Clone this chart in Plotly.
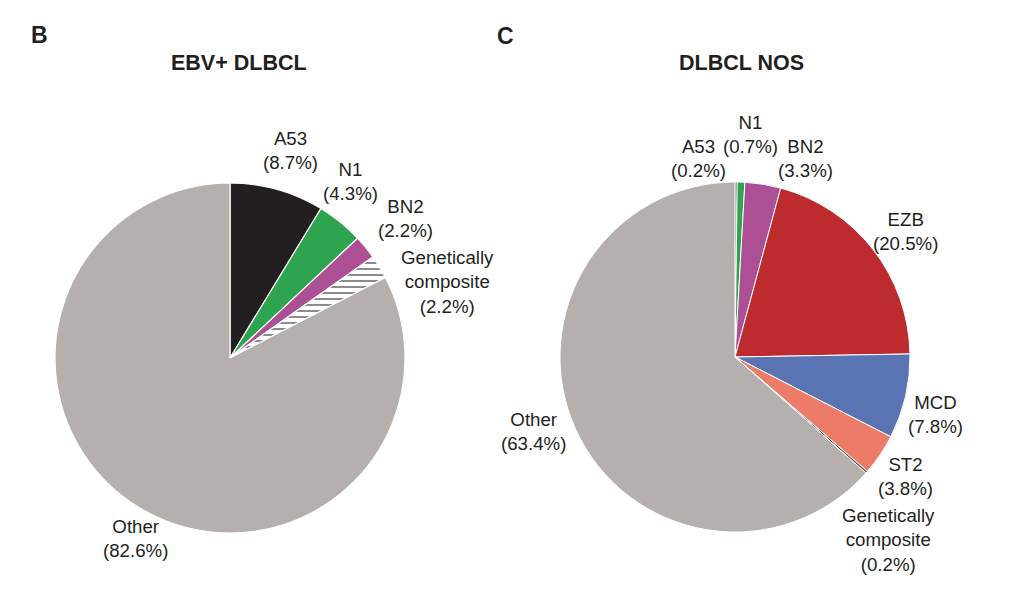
import plotly.graph_objects as go

W, H = 1012, 593
OFF = 8  # page body margin

# Panel B: EBV+ DLBCL
b_labels = ["A53", "N1", "BN2", "Genetically composite", "Other"]
b_values = [8.7, 4.3, 2.2, 2.2, 82.6]
# Panel C: DLBCL NOS
c_labels = ["A53", "N1", "BN2", "EZB", "MCD", "ST2", "Genetically composite", "Other"]
c_values = [0.2, 0.7, 3.3, 20.5, 7.8, 3.8, 0.2, 63.4]

colors = {
    "A53": "#231f20",
    "N1": "#2ea44f",
    "BN2": "#ac4f94",
    "EZB": "#bd2b2f",
    "MCD": "#5a74b3",
    "ST2": "#ec7b67",
    "Genetically composite": "#ffffff",
    "Other": "#b5b0ae",
}

FONT = "Liberation Sans, Arial, Helvetica, sans-serif"


def px(x, y):
    return (x - OFF) / W, 1 - (y - OFF) / H


def dom(cx, cy, r):
    x0, y1 = px(cx - r, cy - r)
    x1, y0 = px(cx + r, cy + r)
    return dict(x=[x0, x1], y=[y0, y1])


def pie(labels, values, domain, gc_fg, gc_bg, line_w):
    pats = ["-" if l == "Genetically composite" else "" for l in labels]
    fg = [gc_fg if l == "Genetically composite" else "#000" for l in labels]
    return go.Pie(
        labels=labels, values=values, sort=False, direction="clockwise",
        rotation=0, textinfo="none", hoverinfo="label+percent",
        showlegend=False, domain=domain,
        marker=dict(
            colors=[gc_bg if l == "Genetically composite" else colors[l] for l in labels],
            line=dict(color="white", width=line_w),
            pattern=dict(shape=pats, fgcolor=fg, bgcolor=gc_bg,
                         size=6, solidity=0.3, fillmode="overlay"),
        ),
    )


fig = go.Figure()
fig.add_trace(pie(b_labels, b_values, dom(230, 358, 175), "#000", "#ffffff", 1.2))
fig.add_trace(pie(c_labels, c_values, dom(735, 357, 175), "#333", "#555555", 1.0))

# label positions (pixel centres)
b_pos = [(290, 150), (350, 181), (405, 219), (447, 282), (135, 538)]
c_pos = [(698, 159), (750, 134), (805, 158), (905, 231), (935, 414),
         (905, 476), (888, 540), (533, 431)]


def lab(name, v):
    n = name.replace("Genetically composite", "Genetically<br>composite")
    return f"{n}<br>({v}%)"


annotations = []
for names, vals, pos in [(b_labels, b_values, b_pos), (c_labels, c_values, c_pos)]:
    for n, v, (x, y) in zip(names, vals, pos):
        ax, ay = px(x, y)
        annotations.append(dict(
            x=ax, y=ay, xref="paper", yref="paper", text=lab(n, v),
            showarrow=False, xanchor="center", yanchor="middle",
            font=dict(family=FONT, size=18.7, color="#231f20"), align="center"))

for t, (x, y) in [("<b>B</b>", (39, 35)), ("<b>C</b>", (505, 36))]:
    ax, ay = px(x, y)
    annotations.append(dict(x=ax, y=ay, xref="paper", yref="paper", text=t,
                            showarrow=False, xanchor="center", yanchor="middle",
                            font=dict(family=FONT, size=23, color="#231f20")))
for t, (x, y) in [("<b>EBV+ DLBCL</b>", (239, 63)), ("<b>DLBCL NOS</b>", (741, 63))]:
    ax, ay = px(x, y)
    annotations.append(dict(x=ax, y=ay, xref="paper", yref="paper", text=t,
                            showarrow=False, xanchor="center", yanchor="middle",
                            font=dict(family=FONT, size=21.5, color="#231f20")))

fig.update_layout(
    width=W, height=H, margin=dict(l=0, r=0, t=0, b=0),
    paper_bgcolor="white", plot_bgcolor="white",
    annotations=annotations, font=dict(family=FONT),
)

fig.write_html("out.html")
